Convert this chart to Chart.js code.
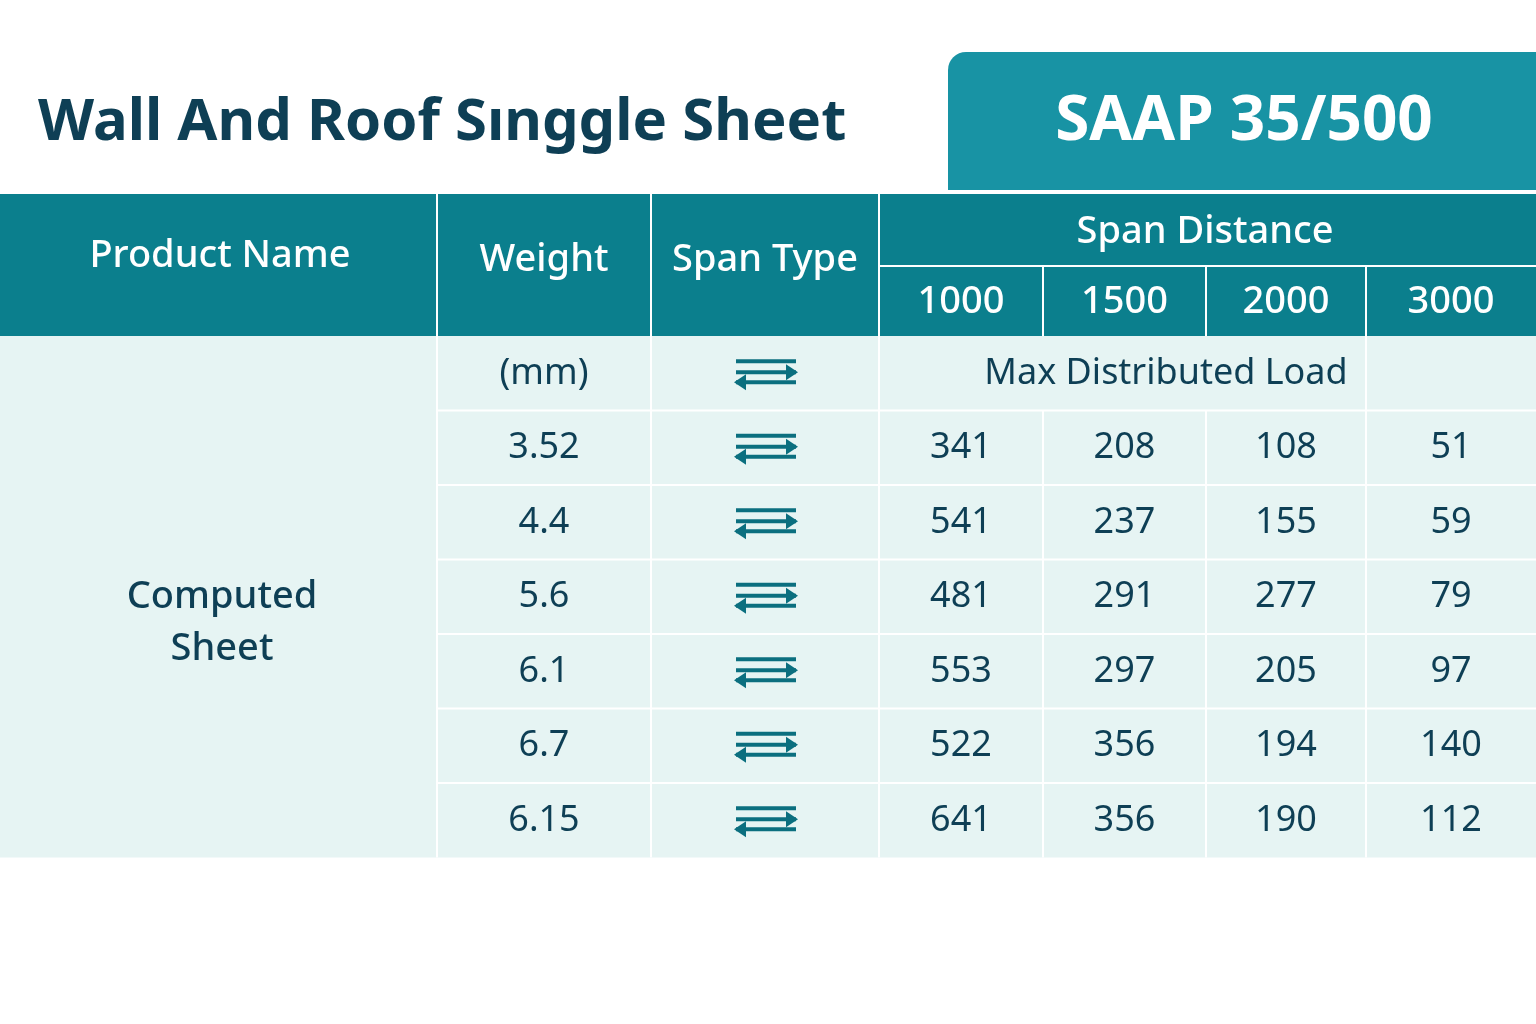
<!DOCTYPE html>
<html>
<head>
<meta charset="utf-8">
<script src="https://cdn.jsdelivr.net/npm/chart.js@4"></script>
<style>
  html, body { margin: 0; padding: 0; background: #ffffff; }
  #wrap { width: 1536px; height: 1024px; }
</style>
</head>
<body>
<div id="wrap"><canvas id="tbl"></canvas></div>
<script>
// ---- data ----
const title = "Wall And Roof Sınggle Sheet";
const badge = "SAAP 35/500";
const headers = ["Product Name", "Weight", "Span Type"];
const spanGroup = "Span Distance";
const spans = ["1000", "1500", "2000", "3000"];
const productName = ["Computed", "Sheet"];
const unitLabel = "(mm)";
const loadLabel = "Max Distributed Load";
const weights = ["3.52", "4.4", "5.6", "6.1", "6.7", "6.15"];
const load1000 = [341, 541, 481, 553, 522, 641];
const load1500 = [208, 237, 291, 297, 356, 356];
const load2000 = [108, 155, 277, 205, 194, 190];
const load3000 = [51, 59, 79, 97, 140, 112];

// ---- layout (scale units) ----
const colEdges = [0, 437, 651, 879, 1043, 1206, 1366, 1536];
const headTop = 194, headMid = 266, headBottom = 336;
const rowH = 74.5;
const FONT = "'Noto Sans', 'Open Sans', sans-serif";
const DARK = "#0e3f55";
const TEAL = "#0b7f8d";

const tablePlugin = {
  id: "tablePlugin",
  afterDraw(chart) {
    const ctx = chart.ctx;
    const xs = chart.scales.x, ys = chart.scales.y;
    const X = v => xs.getPixelForValue(v);
    const Y = v => ys.getPixelForValue(v);
    const rowTop = i => headBottom + i * rowH;
    const nRows = weights.length + 1;
    const bodyBottom = rowTop(nRows);

    ctx.save();
    // title
    ctx.fillStyle = DARK;
    ctx.font = "bold 58px " + FONT;
    ctx.textBaseline = "middle";
    ctx.textAlign = "left";
    ctx.fillText(title, X(38), Y(123));

    // badge
    ctx.fillStyle = "#1893a4";
    ctx.beginPath();
    ctx.roundRect(X(948), Y(52), X(1536) - X(948) + 20, Y(190) - Y(52), [18, 0, 0, 0]);
    ctx.fill();
    ctx.fillStyle = "#ffffff";
    ctx.font = "bold 62px " + FONT;
    ctx.textAlign = "center";
    ctx.fillText(badge, X(1244), Y(122));

    // header
    ctx.fillStyle = TEAL;
    ctx.fillRect(X(0), Y(headTop), X(1536) - X(0), Y(headBottom) - Y(headTop));
    // body
    ctx.fillStyle = "#e6f4f3";
    ctx.fillRect(X(0), Y(headBottom), X(1536) - X(0), Y(bodyBottom) - Y(headBottom));

    // grid lines
    ctx.strokeStyle = "#ffffff";
    ctx.lineWidth = 2;
    const line = (x1, y1, x2, y2) => {
      ctx.beginPath(); ctx.moveTo(X(x1), Y(y1)); ctx.lineTo(X(x2), Y(y2)); ctx.stroke();
    };
    line(colEdges[3], headMid, 1536, headMid);
    for (let c = 1; c <= 3; c++) line(colEdges[c], headTop, colEdges[c], bodyBottom);
    for (let c = 4; c <= 6; c++) line(colEdges[c], headMid, colEdges[c], headBottom);
    for (let c = 4; c <= 6; c++) line(colEdges[c], rowTop(1), colEdges[c], bodyBottom);
    line(colEdges[6], rowTop(0), colEdges[6], rowTop(1));
    for (let r = 1; r < nRows; r++) line(colEdges[1], rowTop(r), 1536, rowTop(r));

    // header text
    ctx.fillStyle = "#ffffff";
    ctx.font = "500 38px " + FONT;
    const mid = c => (colEdges[c] + colEdges[c + 1]) / 2;
    ctx.fillText(headers[0], X(220), Y(256));
    ctx.fillText(headers[1], X(mid(1)), Y(260));
    ctx.fillText(headers[2], X(mid(2)), Y(260));
    ctx.fillText(spanGroup, X(1205), Y(232));
    spans.forEach((s, i) => ctx.fillText(s, X(mid(3 + i)), Y(302)));

    // body text
    ctx.fillStyle = DARK;
    ctx.font = "500 38px " + FONT;
    ctx.fillText(productName[0], X(222), Y(597));
    ctx.fillText(productName[1], X(222), Y(649));
    ctx.font = "36px " + FONT;
    const cy = r => (rowTop(r) + rowTop(r + 1)) / 2;
    ctx.fillText(unitLabel, X(mid(1)), Y(cy(0)));
    ctx.fillText(loadLabel, X(1166), Y(cy(0)));
    const series = [load1000, load1500, load2000, load3000];
    weights.forEach((w, i) => {
      const y = cy(i + 1);
      ctx.fillStyle = DARK;
      ctx.fillText(w, X(mid(1)), Y(y));
      series.forEach((s, k) => ctx.fillText(String(s[i]), X(mid(3 + k)), Y(y)));
    });

    // span type arrows
    const arrow = (cx, y, dir) => {
      const x1 = X(cx - 30), x2 = X(cx + 30);
      ctx.strokeStyle = "#0b6f7f";
      ctx.fillStyle = "#0b6f7f";
      ctx.lineWidth = 4;
      ctx.beginPath(); ctx.moveTo(x1, Y(y)); ctx.lineTo(x2, Y(y)); ctx.stroke();
      const tip = dir > 0 ? x2 + 2 : x1 - 2;
      ctx.beginPath();
      ctx.moveTo(tip, Y(y));
      ctx.lineTo(tip - dir * 12, Y(y) - 8);
      ctx.lineTo(tip - dir * 12, Y(y) + 8);
      ctx.closePath(); ctx.fill();
    };
    for (let r = 0; r < nRows; r++) {
      const y = cy(r);
      ctx.strokeStyle = "#0b6f7f";
      ctx.lineWidth = 4;
      ctx.beginPath(); ctx.moveTo(X(736), Y(y - 12)); ctx.lineTo(X(796), Y(y - 12)); ctx.stroke();
      arrow(766, y - 1, 1);
      arrow(766, y + 9, -1);
    }
    ctx.restore();
  }
};

new Chart(document.getElementById("tbl"), {
  type: "scatter",
  data: { datasets: [{ data: [] }] },
  options: {
    responsive: true,
    maintainAspectRatio: false,
    devicePixelRatio: 1,
    animation: false,
    layout: { padding: 0 },
    plugins: { legend: { display: false }, tooltip: { enabled: false } },
    scales: {
      x: { type: "linear", min: 0, max: 1536, display: false },
      y: { type: "linear", min: 0, max: 1024, reverse: true, display: false }
    }
  },
  plugins: [tablePlugin]
});
</script>
</body>
</html>
